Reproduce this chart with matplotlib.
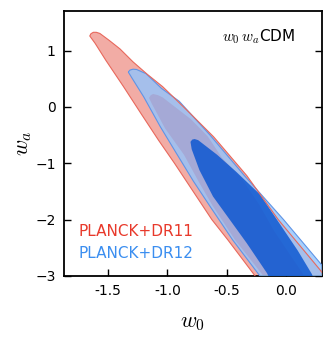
import numpy as np
import matplotlib
matplotlib.use("Agg")
import matplotlib.pyplot as plt

plt.rcParams["mathtext.fontset"] = "cm"
plt.rcParams["font.family"] = "DejaVu Sans"

# contour outlines, (w0, wa) going round each region
# PLANCK+DR11, 95% region
dr11_2s_w0 = [-1.655, -1.645, -1.625, -1.60, -1.57, -1.49, -1.40, -1.29, -1.17, -1.04, -0.81, -0.61, -0.33,
              -0.065, 0.287, 0.40,
              -0.18, -0.26, -0.49, -0.625, -0.94, -1.075, -1.225, -1.37, -1.52, -1.61]
dr11_2s_wa = [1.26, 1.30, 1.325, 1.325, 1.305, 1.18, 1.03, 0.80, 0.58, 0.36, -0.11, -0.53, -1.22,
              -2.0, -2.89, -3.2,
              -3.2, -3.0, -2.36, -2.0, -1.0, -0.59, -0.11, 0.36, 0.83, 1.13]
# PLANCK+DR11, 68% region
dr11_1s_w0 = [-1.155, -1.14, -1.12, -1.08, -1.04, -0.80, -0.66, -0.54, -0.37, -0.22, -0.10, 0.14, 0.20,
              -0.14, -0.19, -0.43, -0.62, -0.73, -0.86, -1.02, -1.13]
dr11_1s_wa = [0.16, 0.21, 0.23, 0.21, 0.17, -0.22, -0.52, -0.90, -1.28, -1.75, -2.2, -2.95, -3.2,
              -3.2, -3.0, -2.36, -1.75, -1.35, -0.85, -0.38, 0.05]
# PLANCK+DR12, 95% region
dr12_2s_w0 = [-1.33, -1.315, -1.29, -1.26, -1.18, -1.05, -0.90, -0.64, -0.35, -0.02, 0.14, 0.32, 0.42,
              -0.15, -0.22, -0.45, -0.645, -0.78, -0.925, -1.06, -1.20, -1.295]
dr12_2s_wa = [0.62, 0.655, 0.67, 0.665, 0.59, 0.33, 0.10, -0.50, -1.22, -2.0, -2.4, -2.85, -3.2,
              -3.2, -3.0, -2.36, -1.75, -1.32, -0.82, -0.35, 0.18, 0.50]
# PLANCK+DR12, 68% region
dr12_1s_w0 = [-0.805, -0.79, -0.77, -0.74, -0.58, -0.42, -0.22, -0.06, 0.10, 0.22, 0.26,
              -0.10, -0.16, -0.33, -0.615, -0.73, -0.795]
dr12_1s_wa = [-0.62, -0.58, -0.57, -0.59, -0.85, -1.15, -1.55, -2.05, -2.55, -2.97, -3.2,
              -3.2, -2.95, -2.42, -1.59, -1.12, -0.75]

xticks = [-1.5, -1.0, -0.5, 0.0]
yticks = [1, 0, -1, -2, -3]

fig = plt.figure(figsize=(3.33, 3.41), dpi=100)
ax = fig.add_axes([0.192, 0.191, 0.775, 0.777])

# red first, blue on top with some transparency
ax.fill(dr11_2s_w0, dr11_2s_wa, facecolor="#f2aca5", edgecolor="none", zorder=1)
ax.fill(dr11_1s_w0, dr11_1s_wa, facecolor="#f23e40", edgecolor="none", zorder=2)
ax.fill(dr12_2s_w0, dr12_2s_wa, facecolor="#92c5fd", edgecolor="none", alpha=0.8, zorder=3)
ax.fill(dr12_1s_w0, dr12_1s_wa, facecolor="#0050d0", edgecolor="none", alpha=0.78, zorder=4)

# outlines
ax.fill(dr12_2s_w0, dr12_2s_wa, facecolor="none", edgecolor="#5f94e6", lw=0.8, zorder=5)
ax.fill(dr11_2s_w0, dr11_2s_wa, facecolor="none", edgecolor="#e8685c", lw=0.8, zorder=6)

ax.set_xlim(-1.873, 0.305)
ax.set_ylim(-3, 1.705)
ax.set_xticks(xticks)
ax.set_xticklabels(["%.1f" % v for v in xticks])
ax.set_yticks(yticks)

ax.tick_params(direction="in", length=5, width=1, labelsize=10, right=True, top=False, pad=6)
for sp in ax.spines.values():
    sp.set_linewidth(1.3)

ax.set_xlabel("$w_0$", fontsize=16, labelpad=11)
ax.set_ylabel("$w_a$", fontsize=16, labelpad=1)

ax.text(0.895, 0.902, "$w_0\\,w_a$CDM", transform=ax.transAxes, ha="right", va="center", fontsize=11)
ax.text(0.055, 0.167, "PLANCK+DR11", transform=ax.transAxes, ha="left", va="center",
        fontsize=11, color="#e8392b")
ax.text(0.055, 0.086, "PLANCK+DR12", transform=ax.transAxes, ha="left", va="center",
        fontsize=11, color="#3b8ef0")

fig.savefig("out.png", dpi=100)
